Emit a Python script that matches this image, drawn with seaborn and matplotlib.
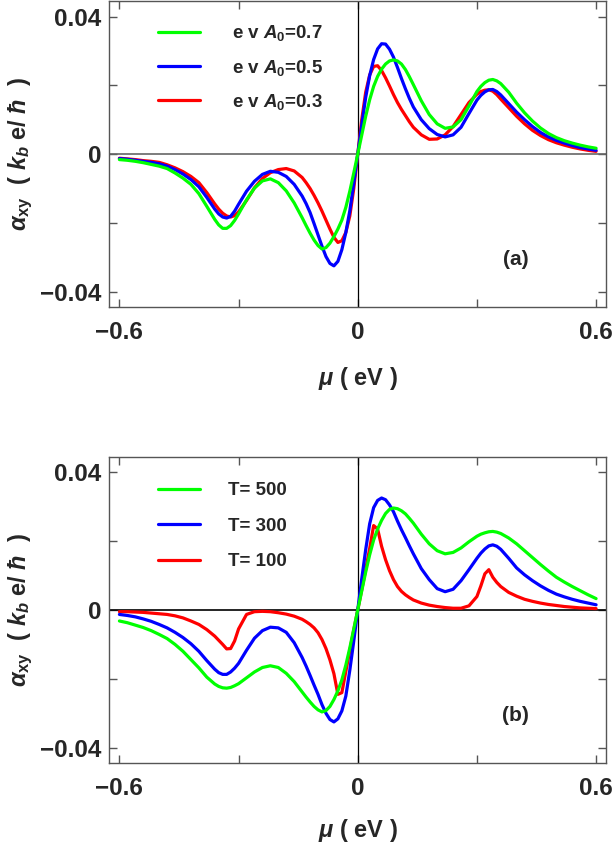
import numpy as np
import pandas as pd
import seaborn as sns
from matplotlib import pyplot as plt
from matplotlib.lines import Line2D

# %%
# chemical potential grid (eV), shared by all curves
mu = [-0.60, -0.58, -0.56, -0.54, -0.52, -0.50, -0.48, -0.46, -0.44, -0.42,
      -0.40, -0.38, -0.36, -0.35, -0.34, -0.33, -0.32, -0.31, -0.30, -0.28,
      -0.26, -0.24, -0.22, -0.20, -0.18, -0.16, -0.14, -0.13, -0.12, -0.11,
      -0.10, -0.09, -0.08, -0.07, -0.06, -0.05, -0.04, -0.03, -0.02, -0.01,
      0.00,
      0.01, 0.02, 0.03, 0.04, 0.05, 0.06, 0.07, 0.08, 0.09, 0.10,
      0.11, 0.12, 0.13, 0.14, 0.16, 0.18, 0.20, 0.22, 0.24, 0.26,
      0.28, 0.30, 0.31, 0.32, 0.33, 0.34, 0.35, 0.36, 0.38, 0.40,
      0.42, 0.44, 0.46, 0.48, 0.50, 0.52, 0.54, 0.56, 0.58, 0.60]

# panel (a): e v A0 = 0.7 / 0.5 / 0.3
a_07 = [-0.0016, -0.0018, -0.0021, -0.0025, -0.0030, -0.0035, -0.0042, -0.0055, -0.0070, -0.0088,
        -0.0115, -0.0152, -0.0190, -0.0206, -0.0216, -0.0216, -0.0208, -0.0193, -0.0174, -0.0133,
        -0.0099, -0.0078, -0.0072, -0.0083, -0.0107, -0.0142, -0.0185, -0.0208, -0.0230, -0.0250,
        -0.0266, -0.0276, -0.0272, -0.0259, -0.0240, -0.0218, -0.0192, -0.0155, -0.0108, -0.0055,
        0.0,
        0.0055, 0.0110, 0.0158, 0.0197, 0.0226, 0.0247, 0.0262, 0.0271, 0.0274, 0.0271,
        0.0262, 0.0246, 0.0225, 0.0202, 0.0155, 0.0115, 0.0088, 0.0075, 0.0079, 0.0100,
        0.0140, 0.0182, 0.0197, 0.0208, 0.0215, 0.0217, 0.0213, 0.0205, 0.0180, 0.0148,
        0.0120, 0.0096, 0.0076, 0.0060, 0.0048, 0.0039, 0.0032, 0.0026, 0.0021, 0.0017]
a_05 = [-0.0013, -0.0015, -0.0018, -0.0021, -0.0024, -0.0028, -0.0035, -0.0045, -0.0058, -0.0074,
        -0.0095, -0.0126, -0.0160, -0.0174, -0.0183, -0.0186, -0.0181, -0.0166, -0.0146, -0.0108,
        -0.0079, -0.0059, -0.0050, -0.0053, -0.0065, -0.0088, -0.0122, -0.0144, -0.0170, -0.0202,
        -0.0235, -0.0268, -0.0298, -0.0318, -0.0325, -0.0312, -0.0278, -0.0228, -0.0165, -0.0085,
        0.0,
        0.0085, 0.0165, 0.0228, 0.0275, 0.0306, 0.0321, 0.0320, 0.0305, 0.0282, 0.0252,
        0.0220, 0.0190, 0.0162, 0.0137, 0.0100, 0.0074, 0.0057, 0.0050, 0.0056, 0.0078,
        0.0118, 0.0157, 0.0171, 0.0181, 0.0187, 0.0188, 0.0182, 0.0172, 0.0147, 0.0122,
        0.0100, 0.0080, 0.0063, 0.0050, 0.0040, 0.0032, 0.0025, 0.0019, 0.0015, 0.0011]
a_03 = [-0.0012, -0.0014, -0.0016, -0.0019, -0.0021, -0.0024, -0.0031, -0.0040, -0.0051, -0.0065,
        -0.0083, -0.0112, -0.0145, -0.0160, -0.0172, -0.0180, -0.0183, -0.0179, -0.0168, -0.0135,
        -0.0098, -0.0071, -0.0054, -0.0045, -0.0042, -0.0049, -0.0068, -0.0083, -0.0100, -0.0120,
        -0.0142, -0.0166, -0.0192, -0.0218, -0.0242, -0.0257, -0.0252, -0.0228, -0.0180, -0.0100,
        0.0,
        0.0100, 0.0180, 0.0230, 0.0255, 0.0257, 0.0243, 0.0222, 0.0198, 0.0173, 0.0150,
        0.0130, 0.0112, 0.0094, 0.0078, 0.0056, 0.0043, 0.0044, 0.0056, 0.0080, 0.0115,
        0.0150, 0.0174, 0.0182, 0.0186, 0.0187, 0.0183, 0.0173, 0.0160, 0.0135, 0.0110,
        0.0088, 0.0069, 0.0054, 0.0042, 0.0033, 0.0026, 0.0020, 0.0015, 0.0011, 0.0008]

# panel (b): T = 500 / 300 / 100
b_500 = [-0.0032, -0.0037, -0.0044, -0.0051, -0.0060, -0.0071, -0.0083, -0.0100, -0.0120, -0.0144,
         -0.0168, -0.0195, -0.0215, -0.0222, -0.0226, -0.0227, -0.0225, -0.0220, -0.0214, -0.0197,
         -0.0180, -0.0167, -0.0162, -0.0167, -0.0184, -0.0208, -0.0238, -0.0253, -0.0267, -0.0280,
         -0.0290, -0.0296, -0.0292, -0.0280, -0.0260, -0.0235, -0.0203, -0.0160, -0.0110, -0.0055,
         0.0,
         0.0055, 0.0110, 0.0160, 0.0203, 0.0235, 0.0260, 0.0280, 0.0292, 0.0296, 0.0294,
         0.0288, 0.0279, 0.0266, 0.0252, 0.0220, 0.0192, 0.0172, 0.0163, 0.0167, 0.0180,
         0.0198, 0.0214, 0.0220, 0.0224, 0.0227, 0.0228, 0.0226, 0.0222, 0.0209, 0.0192,
         0.0172, 0.0152, 0.0132, 0.0113, 0.0095, 0.0081, 0.0068, 0.0056, 0.0044, 0.0033]
b_300 = [-0.0013, -0.0016, -0.0020, -0.0026, -0.0033, -0.0042, -0.0052, -0.0065, -0.0080, -0.0098,
         -0.0120, -0.0147, -0.0172, -0.0182, -0.0187, -0.0187, -0.0180, -0.0169, -0.0155, -0.0117,
         -0.0082, -0.0060, -0.0050, -0.0052, -0.0065, -0.0095, -0.0138, -0.0163, -0.0190, -0.0218,
         -0.0245, -0.0275, -0.0300, -0.0318, -0.0325, -0.0316, -0.0293, -0.0250, -0.0175, -0.0090,
         0.0,
         0.0090, 0.0175, 0.0250, 0.0297, 0.0318, 0.0325, 0.0320, 0.0305, 0.0285, 0.0258,
         0.0233, 0.0210, 0.0186, 0.0163, 0.0120, 0.0088, 0.0062, 0.0053, 0.0060, 0.0085,
         0.0117, 0.0150, 0.0165, 0.0177, 0.0186, 0.0189, 0.0185, 0.0176, 0.0150, 0.0122,
         0.0102, 0.0085, 0.0070, 0.0057, 0.0046, 0.0038, 0.0031, 0.0025, 0.0020, 0.0015]
b_100 = [-0.0005, -0.0005, -0.0006, -0.0007, -0.0009, -0.0011, -0.0013, -0.0017, -0.0023, -0.0032,
         -0.0042, -0.0057, -0.0076, -0.0088, -0.0100, -0.0113, -0.0112, -0.0090, -0.0055, -0.0013,
         -0.0005, -0.0004, -0.0005, -0.0008, -0.0012, -0.0018, -0.0027, -0.0034, -0.0042, -0.0052,
         -0.0066, -0.0086, -0.0112, -0.0145, -0.0185, -0.0245, -0.0240, -0.0178, -0.0118, -0.0058,
         0.0,
         0.0058, 0.0118, 0.0178, 0.0245, 0.0235, 0.0185, 0.0146, 0.0114, 0.0088, 0.0068,
         0.0054, 0.0044, 0.0036, 0.0029, 0.0020, 0.0014, 0.0010, 0.0007, 0.0005, 0.0005,
         0.0012, 0.0039, 0.0070, 0.0105, 0.0117, 0.0095, 0.0080, 0.0068, 0.0051, 0.0040,
         0.0031, 0.0025, 0.0020, 0.0016, 0.0013, 0.0010, 0.0008, 0.0006, 0.0005, 0.0004]

labels_a = ['e v $A_0$=0.7', 'e v $A_0$=0.5', 'e v $A_0$=0.3']
labels_b = ['T= 500', 'T= 300', 'T= 100']
colors = ['#00ff00', '#0000ff', '#ff0000']

# %%
sns.set_style('ticks')
plt.rcParams['font.family'] = ['Liberation Sans', 'DejaVu Sans']
plt.rcParams['font.weight'] = 'bold'
plt.rcParams['mathtext.fontset'] = 'custom'
plt.rcParams['mathtext.rm'] = 'Liberation Sans:bold'
plt.rcParams['mathtext.bf'] = 'Liberation Sans:bold'
plt.rcParams['mathtext.it'] = 'Liberation Sans:italic:bold'

fig = plt.figure(figsize=(6.13, 8.46), dpi=100)
ax1 = fig.add_axes([0.1786, 0.637, 0.810, 0.3617])
ax2 = fig.add_axes([0.1786, 0.0978, 0.810, 0.3624])


def draw_panel(ax, curves, labels, tag, zero_col, leg_y, leg_space, leg_pad, xlab_y):
    ax.axhline(0, color=zero_col, lw=1.2, zorder=1)
    ax.axvline(0, color='black', lw=0.9, zorder=1)
    # draw red first so green ends up on top
    for y, c, lab in list(zip(curves, colors, labels))[::-1]:
        sns.lineplot(x=mu, y=y, ax=ax, color=c, lw=2.3, label=lab, zorder=3,
                     solid_joinstyle='round')
    handles = [Line2D([], [], color=c, lw=2.3) for c in colors]
    ax.legend(handles, labels, frameon=False, loc='upper left',
              bbox_to_anchor=(0.097, leg_y), fontsize=13.5, handlelength=2.26,
              handletextpad=leg_pad, labelspacing=leg_space, borderaxespad=0, borderpad=0)
    ax.set_xlim(-0.625, 0.625)
    ax.set_ylim(-0.0445, 0.0445)
    ax.set_xticks([-0.6, -0.3, 0, 0.3, 0.6])
    ax.set_xticklabels(['\u22120.6', '', '0', '', '0.6'])
    ax.set_yticks([-0.04, -0.02, 0, 0.02, 0.04])
    ax.set_yticklabels(['\u22120.04', '', '0', '', '0.04'])
    ax.tick_params(direction='in', top=True, right=True, length=6, width=1,
                   color='#555555', labelsize=17.5)
    ax.tick_params(axis='x', pad=10)
    ax.tick_params(axis='y', pad=6)
    for s in ax.spines.values():
        s.set_color('#555555')
        s.set_linewidth(1.0)
    ax.set_xlabel(r'$\mu$ ( eV )', fontsize=17, fontweight='bold', va='top')
    ax.xaxis.set_label_coords(0.5, xlab_y)
    ax.set_ylabel(r'$\alpha_{\mathrm{xy}}$  ( $k_b$ e/ $\hbar$  )', fontsize=17, fontweight='bold')
    ax.yaxis.set_label_coords(-0.15, 0.5)
    ax.text(0.818, 0.157, tag, transform=ax.transAxes, ha='center', va='center',
            fontsize=15, fontweight='bold')


draw_panel(ax1, [a_07, a_05, a_03], labels_a, '(a)', '#666666', 0.928, 0.77, 1.7, -0.19)
draw_panel(ax2, [b_500, b_300, b_100], labels_b, '(b)', 'black', 0.9175, 0.98, 1.5, -0.175)

plt.savefig('out.png', dpi=100)
